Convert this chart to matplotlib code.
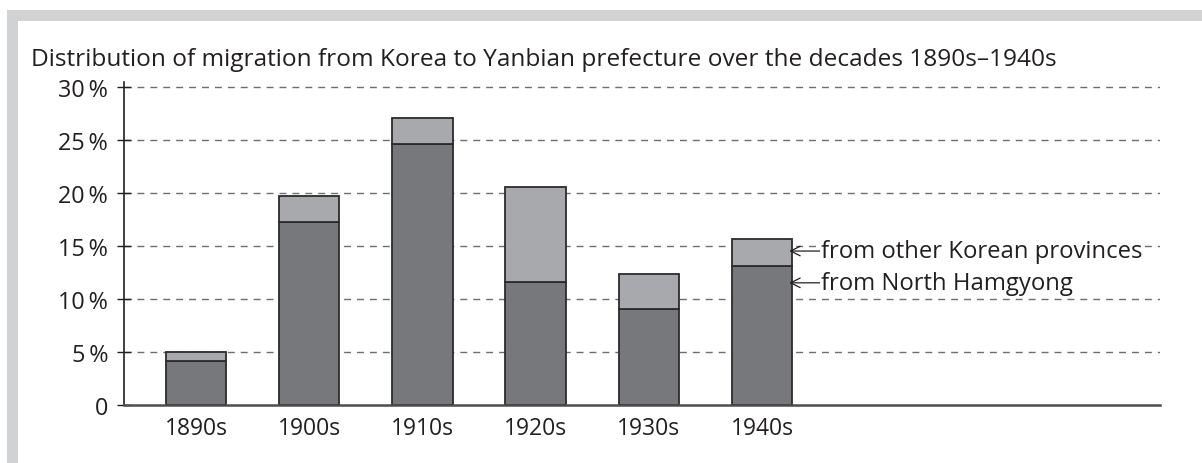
import matplotlib
matplotlib.use("Agg")
import matplotlib.pyplot as plt
from matplotlib.patches import Rectangle

plt.rcParams['font.family'] = ['Open Sans', 'DejaVu Sans']
plt.rcParams['lines.scale_dashes'] = False

# ---- data ----
decades = ["1890s", "1900s", "1910s", "1920s", "1930s", "1940s"]
north_hamgyong = [4.1, 17.25, 24.6, 11.55, 9.0, 13.1]
other_provinces = [0.9, 2.45, 2.5, 8.95, 3.3, 2.5]
y_ticks = [0, 5, 10, 15, 20, 25, 30]
y_tick_labels = ["0", "5\u2009%", "10\u2009%", "15\u2009%", "20\u2009%", "25\u2009%", "30\u2009%"]
title = "Distribution of migration from Korea to Yanbian prefecture over the decades 1890s\u20131940s"
label_other = "from other Korean provinces"
label_north = "from North Hamgyong"

W, H = 1202, 464
fig = plt.figure(figsize=(W / 100, H / 100), dpi=100)
fig.patch.set_facecolor("white")

band = "#d1d2d4"
fig.patches.append(Rectangle((7 / W, 0), 11 / W, 1 - 11 / H, transform=fig.transFigure,
                             facecolor=band, edgecolor="none", zorder=0))
fig.patches.append(Rectangle((7 / W, 1 - 22 / H), 1 - 7 / W, 11 / H, transform=fig.transFigure,
                             facecolor=band, edgecolor="none", zorder=0))

left, right = 124 / W, 1160 / W
bottom, top = 1 - 405.7 / H, 1 - 83 / H
ax = fig.add_axes([left, bottom, right - left, top - bottom])

text_color = "#231f20"
dark = "#77787c"
light = "#a8a9ac"
edge = "#2b2b2b"

x = list(range(len(decades)))
ax.bar(x, north_hamgyong, width=0.535, color=dark, edgecolor=edge, linewidth=1.3, zorder=3)
ax.bar(x, other_provinces, bottom=north_hamgyong, width=0.535, color=light,
       edgecolor=edge, linewidth=1.3, zorder=3)

ax.set_xlim(-0.636, 8.515)
ax.set_ylim(0, 30.45)

for v in y_ticks[1:]:
    ax.axhline(v, color="#6d6e71", linewidth=1.0, dashes=(5, 4.3), zorder=1)

ax.set_yticks(y_ticks)
ax.set_yticklabels(y_tick_labels)
ax.set_xticks(x)
ax.set_xticklabels(decades)
ax.tick_params(axis="y", direction="inout", length=10, width=1.0, color="#231f20",
               pad=6.5, labelsize=16.8, labelcolor=text_color)
ax.tick_params(axis="x", length=0, pad=8, labelsize=16.5, labelcolor=text_color)

for s in ["top", "right"]:
    ax.spines[s].set_visible(False)
ax.spines["left"].set_color("#231f20")
ax.spines["left"].set_linewidth(1.2)
ax.spines["bottom"].set_color("#4d4d4f")
ax.spines["bottom"].set_linewidth(1.8)
ax.spines["bottom"].set_zorder(4)

fig.text(31 / W, 1 - 66 / H, title, ha="left", va="baseline", fontsize=17.6, color=text_color)

# annotations with arrows
ann_props = dict(arrowstyle="->", color="#231f20", lw=0.9, shrinkA=0, shrinkB=0)
xi = 5
ax.annotate(label_other, xy=(xi + 0.24, 14.5), xytext=(xi + 0.52, 14.5),
            ha="left", va="center", fontsize=17.2, color=text_color,
            arrowprops=ann_props, zorder=5,
            bbox=dict(boxstyle="square,pad=0.05", facecolor="white", edgecolor="none"))
ax.annotate(label_north, xy=(xi + 0.24, 11.5), xytext=(xi + 0.52, 11.5),
            ha="left", va="center", fontsize=17.2, color=text_color,
            arrowprops=ann_props, zorder=5,
            bbox=dict(boxstyle="square,pad=0.05", facecolor="white", edgecolor="none"))

fig.savefig("out.png", dpi=100)
